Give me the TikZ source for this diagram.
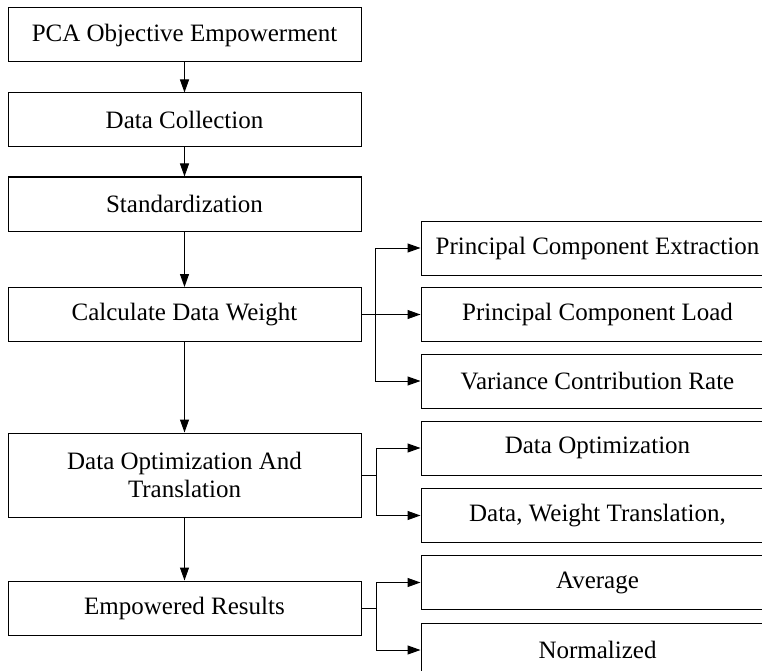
\documentclass[tikz,border=0pt]{standalone}
\usepackage{fontspec}
\setmainfont{Liberation Serif}
\usetikzlibrary{arrows.meta}

\tikzset{every picture/.style={line width=1pt}}
\tikzset{
  stage/.style={draw, rectangle, minimum width=353pt, minimum height=54pt, inner sep=0pt, align=center, font=\fontsize{25}{28}\selectfont},
  link/.style={-{Triangle[length=13pt,width=9pt]}},
}

\begin{document}
\begin{tikzpicture}[x=1pt,y=1pt,yscale=-1]
\useasboundingbox (0,0) rectangle (762,671);
\clip (0,0) rectangle (762,671);

% main steps
\node [stage] (pca) at (184.5,35) {PCA Objective Empowerment};
\node [stage] (collect) at (184.5,120) {Data Collection};
\node [stage] (std) at (184.5,204) {Standardization};
\node [stage] (weight) at (184.5,314.5) {Calculate Data Weight};
\node [stage, minimum height=84pt] (optim) at (184.5,475) {Data Optimization And\\Translation};
\node [stage] (result) at (184.5,608) {Empowered Results};

% sub steps
\node [stage] (extract) at (597.5,248) {Principal Component Extraction};
\node [stage] (load) at (597.5,314.5) {Principal Component Load};
\node [stage] (rate) at (597.5,381) {Variance Contribution Rate};
\node [stage] (dopt) at (597.5,448) {Data Optimization};
\node [stage] (trans) at (597.5,515.5) {Data, Weight Translation,};
\node [stage] (avg) at (597.5,582.5) {Average};
\node [stage] (norm) at (597.5,650) {Normalized};

% main flow
\draw [link] (pca) -- (collect);
\draw [link] (collect) -- (std);
\draw [link] (std) -- (weight);
\draw [link] (weight) -- (optim);
\draw [link] (optim) -- (result);

% branches
\coordinate (j1) at (375,314.5);
\draw [link] (weight.east) -- (load.west);
\draw [link] (j1) |- (extract.west);
\draw [link] (j1) |- (rate.west);

\coordinate (j2) at (376,475);
\draw (optim.east) -- (j2);
\draw [link] (j2) |- (dopt.west);
\draw [link] (j2) |- (trans.west);

\coordinate (j3) at (376,608);
\draw (result.east) -- (j3);
\draw [link] (j3) |- (avg.west);
\draw [link] (j3) |- (norm.west);

\end{tikzpicture}
\end{document}
